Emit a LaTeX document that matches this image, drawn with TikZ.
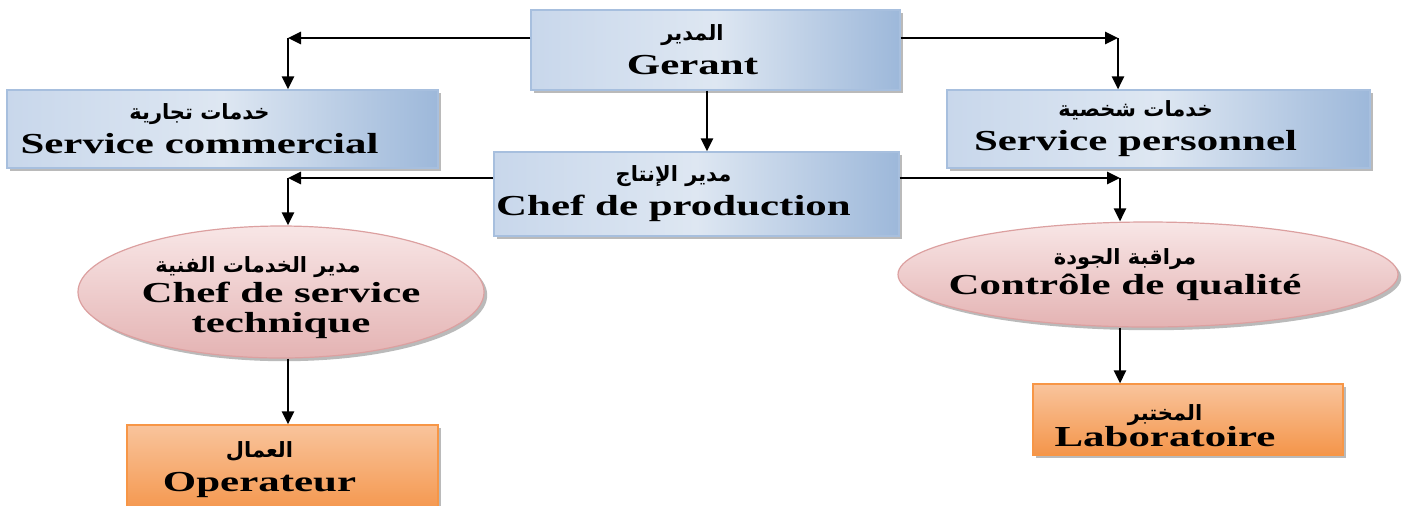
\documentclass[tikz,border=0pt]{standalone}
\usepackage{fontspec}
\usetikzlibrary{arrows.meta,shapes.geometric,shadows}
\setmainfont{Liberation Serif}
\newfontfamily\lb{Liberation Serif Bold}[FakeStretch=1.48]
\TeXXeTstate=1
\newfontfamily\arabicfont[Script=Arabic]{DejaVu Sans}
% Arabic caption line and Latin line, both set a little left of the box centre
\newcommand{\artx}[1]{{\fontsize{10.5}{12}\arabicfont\bfseries\beginR #1\endR}\hspace*{23pt}}
\newcommand{\latx}[1]{#1\hspace*{23pt}}
\definecolor{bluebd}{HTML}{A7BFDE}
\definecolor{pinkbd}{HTML}{DCA0A0}
\definecolor{orangebd}{HTML}{F79646}
\definecolor{blueL}{HTML}{C8D7EB}
\definecolor{blueM}{HTML}{DEE7F2}
\definecolor{blueR}{HTML}{9DB8DA}
\definecolor{pinkT}{HTML}{F8E6E6}
\definecolor{pinkB}{HTML}{E4B3B3}
\definecolor{orangeT}{HTML}{F9C49C}
\definecolor{orangeB}{HTML}{F4954A}
\tikzset{
  shd/.style={drop shadow={shadow xshift=1.6pt,shadow yshift=-1.6pt,fill=black!45,opacity=0.6}},
  txt/.style={align=center,inner sep=0pt,font=\fontsize{14.5}{16}\selectfont\lb},
  bluebox/.style={rectangle,draw=bluebd,line width=0.6pt,shd,txt,
    left color=blueL,right color=blueR,middle color=blueM},
  pinkell/.style={ellipse,draw=pinkbd,line width=0.6pt,shd,txt,inner xsep=-40pt,inner ysep=-10pt,
    top color=pinkT,bottom color=pinkB},
  orangebox/.style={rectangle,draw=orangebd,line width=0.6pt,shd,txt,
    top color=orangeT,bottom color=orangeB},
  arr/.style={line width=1.3pt,-{Triangle[length=6.5pt,width=6pt]}},
}
\begin{document}
\begin{tikzpicture}[x=0.5pt,y=-0.5pt]
  \useasboundingbox[fill=white] (0,0) rectangle (1406,505);
  \begin{scope}
    \clip (0,0) rectangle (1406,505);
    % top level
    \node[bluebox,minimum width=184.5pt,minimum height=40pt] (gerant) at (715.5,50)
      {\artx{المدير}\\[1pt]\latx{Gerant}};
    \node[bluebox,minimum width=215.5pt,minimum height=39pt] (sc) at (222.5,129)
      {\artx{خدمات تجارية}\\[1pt]\latx{Service commercial}};
    \node[bluebox,minimum width=211.5pt,minimum height=39pt] (sp) at (1158.5,129)
      {\artx{خدمات شخصية}\\[1pt]\latx{Service personnel}};
    \node[bluebox,minimum width=202.5pt,minimum height=42pt] (cp) at (696.5,194)
      {\artx{مدير الإنتاج}\\[1pt]\latx{Chef de production}};
    % services
    \node[pinkell,minimum width=203pt,minimum height=66pt] (el) at (281,292)
      {\rule{0pt}{14pt}\artx{مدير الخدمات الفنية}\\[-1pt]\latx{Chef de service}\\[-1pt]technique};
    \node[pinkell,minimum width=250pt,minimum height=52.5pt] (er) at (1148,274.5)
      {\artx{مراقبة الجودة}\\[-1pt]\latx{Contrôle de qualité}};
    % bottom level
    \node[orangebox,minimum width=155.5pt,minimum height=45pt] (op) at (282.5,470)
      {\artx{العمال}\\[1pt]\latx{Operateur}};
    \node[orangebox,minimum width=155pt,minimum height=35.5pt] (lab) at (1188,419.5)
      {\rule{0pt}{14pt}\artx{المختبر}\\[-3pt]\latx{Laboratoire}};
  \end{scope}
  % bends of the connectors
  \coordinate (c1) at (288,38);
  \coordinate (c2) at (1118,38);
  \coordinate (c3) at (288,178);
  \coordinate (c4) at (1120,178);
  \coordinate (c5) at (707,0);
  \draw[arr] (c1 -| gerant.west) -- (c1);
  \draw[arr] (c1) -- (c1 |- sc.north);
  \draw[arr] (c2 -| gerant.east) -- (c2);
  \draw[arr] (c2) -- (c2 |- sp.north);
  \draw[arr] (c5 |- gerant.south) -- (c5 |- cp.north);
  \draw[arr] (c3 -| cp.west) -- (c3);
  \draw[arr] (c3) -- (c3 |- el.north);
  \draw[arr] (c4 -| cp.east) -- (c4);
  \draw[arr] (c4) -- (c4 |- er.north);
  \draw[arr] (c3 |- el.south) -- (c3 |- op.north);
  \draw[arr] (c4 |- er.south) -- (c4 |- lab.north);
\end{tikzpicture}
\end{document}
